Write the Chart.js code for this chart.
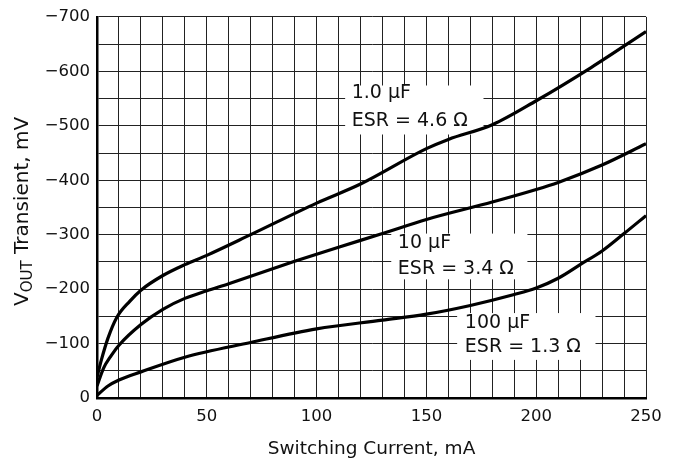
<!DOCTYPE html>
<html>
<head>
<meta charset="utf-8">
<script src="https://cdn.jsdelivr.net/npm/chart.js@4"></script>
<style>
  html, body { margin: 0; padding: 0; background: #fff; }
  #wrap { width: 677px; height: 464px; }
</style>
</head>
<body>
<div id="wrap"><canvas id="grafico"></canvas></div>
<script>
// 1.0 uF, ESR = 4.6 ohm
const cur1 = [0, 2, 5, 9, 15, 20, 30, 40, 50, 70, 100, 120, 150, 160, 180, 200, 225, 250]
const mv1 = [-38, -70, -110, -148, -178, -198, -225, -245, -262, -300, -358, -393, -458, -475, -502, -546, -607, -673]

// 10 uF, ESR = 3.4 ohm
const cur2 = [0, 3, 6, 10, 20, 30, 40, 50, 60, 90, 110, 130, 150, 180, 200, 210, 230, 250]
const mv2 = [-22, -55, -75, -97, -135, -163, -183, -197, -210, -251, -277, -302, -328, -360, -383, -396, -428, -467]

// 100 uF, ESR = 1.3 ohm
const cur3 = [0, 5, 10, 20, 40, 70, 100, 130, 150, 170, 190, 200, 210, 220, 230, 240, 250]
const mv3 = [-5, -22, -33, -48, -75, -102, -127, -143, -154, -170, -190, -202, -220, -245, -270, -302, -335]

const xTicks = [0, 50, 100, 150, 200, 250]
const yTicks = [0, -100, -200, -300, -400, -500, -600, -700]

const curveLabels = [
  ['1.0 \u00b5F', 'ESR = 4.6 \u03a9'],
  ['10 \u00b5F', 'ESR = 3.4 \u03a9'],
  ['100 \u00b5F', 'ESR = 1.3 \u03a9']
]

const FONT = '"DejaVu Sans", "Liberation Sans", sans-serif'

function pontos(xs, ys) {
  return xs.map((x, i) => ({ x: x, y: ys[i] }))
}

function serie(label, xs, ys) {
  return {
    label: label,
    data: pontos(xs, ys),
    borderColor: '#000',
    borderWidth: 3.2,
    pointRadius: 0,
    fill: false,
    cubicInterpolationMode: 'monotone'
  }
}

// caixas brancas com os textos das curvas (em coordenadas do grafico)
const caixas = [
  { x0: 113, x1: 176, y0: -574, y1: -484, tx: 116, ty: [-560, -509] },
  { x0: 134, x1: 196, y0: -302, y1: -218, tx: 137, ty: [-284, -236] },
  { x0: 164, x1: 227, y0: -156, y1: -70, tx: 167.5, ty: [-138, -93] }
]

const rotulos = {
  id: 'rotulos',
  beforeDatasetsDraw(chart) {
    const ctx = chart.ctx
    const xs = chart.scales.x
    const ys = chart.scales.y
    ctx.save()
    caixas.forEach((c, i) => {
      const l = xs.getPixelForValue(c.x0)
      const r = xs.getPixelForValue(c.x1)
      const t = ys.getPixelForValue(c.y0)
      const b = ys.getPixelForValue(c.y1)
      ctx.fillStyle = '#fff'
      ctx.fillRect(l, t, r - l, b - t)
      ctx.fillStyle = '#111'
      ctx.font = '19px ' + FONT
      ctx.textBaseline = 'middle'
      ctx.textAlign = 'left'
      curveLabels[i].forEach((txt, j) => {
        ctx.fillText(txt, xs.getPixelForValue(c.tx), ys.getPixelForValue(c.ty[j]))
      })
    })
    ctx.restore()
  },
  afterDraw(chart) {
    // titulo do eixo y com subscrito
    const ctx = chart.ctx
    const area = chart.chartArea
    const cy = (area.top + area.bottom) / 2 + 4
    ctx.save()
    ctx.translate(23, cy)
    ctx.rotate(-Math.PI / 2)
    ctx.fillStyle = '#111'
    ctx.textBaseline = 'middle'
    ctx.textAlign = 'left'
    const big = '20px ' + FONT
    const small = '15px ' + FONT
    ctx.font = big
    const wV = ctx.measureText('V').width
    const wRest = ctx.measureText(' Transient, mV').width
    ctx.font = small
    const wSub = ctx.measureText('OUT').width
    let x = -(wV + wSub + wRest) / 2
    ctx.font = big
    ctx.fillText('V', x, 0)
    x += wV
    ctx.font = small
    ctx.fillText('OUT', x, 5)
    x += wSub
    ctx.font = big
    ctx.fillText(' Transient, mV', x, 0)
    ctx.restore()
  }
}

const g = new Chart(document.getElementById('grafico'), {
  type: 'line',
  data: {
    datasets: [
      serie(curveLabels[0].join(' '), cur1, mv1),
      serie(curveLabels[1].join(' '), cur2, mv2),
      serie(curveLabels[2].join(' '), cur3, mv3)
    ]
  },
  options: {
    responsive: true,
    maintainAspectRatio: false,
    animation: false,
    layout: { padding: { top: 13, right: 31, left: 0, bottom: 0 } },
    plugins: {
      legend: { display: false },
      tooltip: { enabled: false }
    },
    scales: {
      x: {
        type: 'linear',
        min: 0,
        max: 250,
        afterFit(scale) { scale.height = 66 },
        ticks: {
          stepSize: 10,
          autoSkip: false,
          maxRotation: 0,
          padding: 9,
          color: '#111',
          font: { family: FONT, size: 16.5 },
          callback: v => xTicks.includes(v) ? String(v) : ''
        },
        grid: { color: '#222', lineWidth: 1, drawTicks: false },
        border: { color: '#000', width: 2.5 },
        title: {
          display: true,
          text: 'Switching Current, mA',
          color: '#111',
          font: { family: FONT, size: 18.5 },
          padding: { top: 0, bottom: 4 }
        }
      },
      y: {
        type: 'linear',
        min: -700,
        max: 0,
        reverse: true,
        afterFit(scale) { scale.width = 97 },
        ticks: {
          stepSize: 50,
          autoSkip: false,
          padding: 7,
          color: '#111',
          font: { family: FONT, size: 16.5 },
          callback: v => yTicks.includes(v) ? (v === 0 ? '0' : '\u2212' + Math.abs(v)) : ''
        },
        grid: { color: '#222', lineWidth: 1, drawTicks: false },
        border: { color: '#000', width: 2.5 }
      }
    }
  },
  plugins: [rotulos]
})
</script>
</body>
</html>
